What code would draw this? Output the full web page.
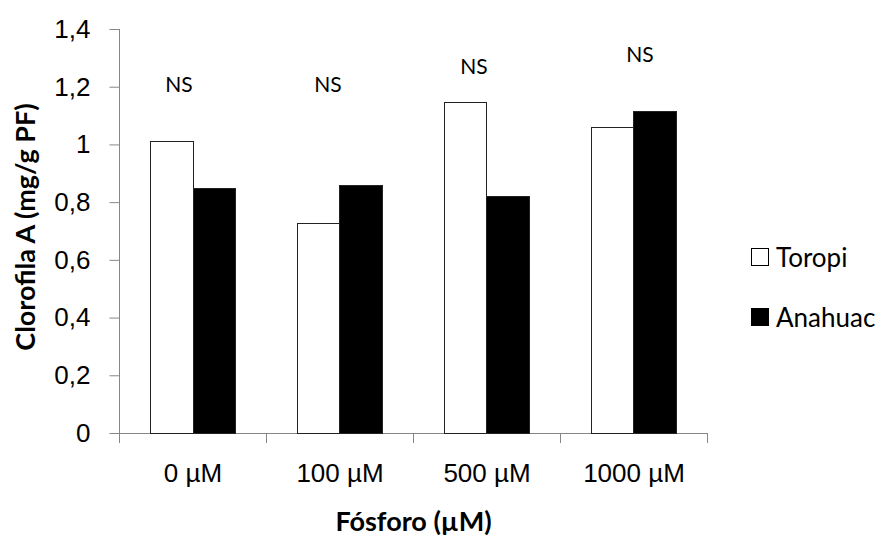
<!DOCTYPE html>
<html>
<head>
<meta charset="utf-8">
<script src="https://cdn.jsdelivr.net/npm/d3@7"></script>
<style>
  body { margin: 0; background: #fff; }
  svg { display: block; font-family: Lato, 'Open Sans', sans-serif; }
</style>
</head>
<body>
<main></main>
<script>
const categories = ['0 µM', '100 µM', '500 µM', '1000 µM'];
const seriesNames = ['Toropi', 'Anahuac'];
const toropi = [1.01, 0.725, 1.147, 1.058];
const anahuac = [0.846, 0.858, 0.819, 1.113];
const yTicks = [0, 0.2, 0.4, 0.6, 0.8, 1, 1.2, 1.4];
const nsLabels = ['NS', 'NS', 'NS', 'NS'];
const nsLevels = [1.18, 1.18, 1.245, 1.285];

// hand placed annotations in the original, nudged off the group centre
const nsShift = [-14, -12, -13, 6];
const colors = ['#fff', '#000'];

const dimensions = {
  width: 889,
  height: 536,
  margin: {
    top: 29,
    right: 181.5,
    bottom: 103,
    left: 119.5,
  },
};

dimensions.boundedWidth =
  dimensions.width - (dimensions.margin.left + dimensions.margin.right);
dimensions.boundedHeight =
  dimensions.height - (dimensions.margin.top + dimensions.margin.bottom);

const data = categories.map((category, i) => ({
  category,
  values: [toropi[i], anahuac[i]],
}));

const xScale = d3
  .scaleBand()
  .domain(categories)
  .range([0, dimensions.boundedWidth])
  .paddingInner(0.425)
  .paddingOuter(0.2125);

const seriesScale = d3
  .scaleBand()
  .domain(seriesNames)
  .range([0, xScale.bandwidth()]);

const yScale = d3
  .scaleLinear()
  .domain([0, 1.4])
  .range([dimensions.boundedHeight, 0]);

const wrapper = d3
  .select('main')
  .append('svg')
  .attr('width', dimensions.width)
  .attr('height', dimensions.height);

const bounds = wrapper
  .append('g')
  .attr(
    'transform',
    `translate(${dimensions.margin.left} ${dimensions.margin.top})`
  );

const axisColor = '#868686';
const fmt = d => String(d3.format('~g')(d)).replace('.', ',');

const yAxis = d3
  .axisLeft(yScale)
  .tickValues(yTicks)
  .tickSize(10)
  .tickPadding(19)
  .tickFormat(fmt);

const yAxisGroup = bounds.append('g').call(yAxis);

yAxisGroup.select('.domain').remove();
yAxisGroup
  .append('path')
  .attr('d', `M 0 0 V ${dimensions.boundedHeight + 10}`)
  .attr('stroke', axisColor)
  .attr('shape-rendering', 'crispEdges');

const xAxis = d3
  .axisBottom(xScale)
  .tickSize(0)
  .tickPadding(31);

const xAxisGroup = bounds
  .append('g')
  .attr('transform', `translate(0 ${dimensions.boundedHeight})`)
  .call(xAxis);

xAxisGroup.select('.domain').remove();
xAxisGroup
  .append('path')
  .attr('d', `M 0 0 H ${dimensions.boundedWidth}`)
  .attr('stroke', axisColor)
  .attr('shape-rendering', 'crispEdges');

// category boundary ticks
xAxisGroup
  .selectAll('path.boundary')
  .data(categories.slice(1).concat(['end']))
  .join('path')
  .attr('class', 'boundary')
  .attr('d', (d, i) => {
    const x = i < categories.length - 1
      ? xScale(d) - (xScale.step() - xScale.bandwidth()) / 2
      : dimensions.boundedWidth;
    return `M ${x} 0 V 10`;
  })
  .attr('stroke', axisColor)
  .attr('shape-rendering', 'crispEdges');

yAxisGroup.selectAll('.tick line').attr('stroke', axisColor);
bounds
  .selectAll('.tick text')
  .attr('fill', '#000')
  .attr('font-size', 26);

xAxisGroup.selectAll('.tick text').attr('dy', '0.71em');

const groups = bounds
  .append('g')
  .selectAll('g')
  .data(data)
  .join('g')
  .attr('transform', d => `translate(${xScale(d.category)} 0)`);

groups
  .selectAll('rect')
  .data(d => d.values.map((value, i) => ({ value, name: seriesNames[i] })))
  .join('rect')
  .attr('x', d => seriesScale(d.name))
  .attr('y', d => yScale(d.value))
  .attr('width', seriesScale.bandwidth())
  .attr('height', d => dimensions.boundedHeight - yScale(d.value))
  .attr('fill', (d, i) => colors[i])
  .attr('stroke', '#222')
  .attr('stroke-width', 1)
  .attr('shape-rendering', 'crispEdges');

bounds
  .append('g')
  .selectAll('text')
  .data(nsLabels)
  .join('text')
  .attr('x', (d, i) => xScale(categories[i]) + xScale.bandwidth() / 2 + nsShift[i])
  .attr('y', (d, i) => yScale(nsLevels[i]))
  .attr('text-anchor', 'middle')
  .attr('font-size', 21)
  .attr('fill', '#000')
  .text(d => d);

// axis titles
wrapper
  .append('text')
  .attr('transform', `translate(35 ${dimensions.margin.top + yScale(0.7) - 4}) rotate(-90)`)
  .attr('text-anchor', 'middle')
  .attr('font-size', 27)
  .attr('font-weight', 'bold')
  .text('Clorofila A (mg/g PF)');

wrapper
  .append('text')
  .attr('x', dimensions.margin.left + dimensions.boundedWidth / 2)
  .attr('y', 531)
  .attr('text-anchor', 'middle')
  .attr('font-size', 27)
  .attr('font-weight', 'bold')
  .text('Fósforo (µM)');

// legend
const legend = wrapper
  .append('g')
  .attr('transform', 'translate(751 248)');

const legendItems = legend
  .selectAll('g')
  .data(seriesNames)
  .join('g')
  .attr('transform', (d, i) => `translate(0 ${i * 60})`);

legendItems
  .append('rect')
  .attr('x', 0.5)
  .attr('y', 0.5)
  .attr('width', 17)
  .attr('height', 17)
  .attr('fill', (d, i) => colors[i])
  .attr('stroke', '#000');

legendItems
  .append('text')
  .attr('x', 25)
  .attr('y', 18.5)
  .attr('font-size', 26)
  .attr('fill', '#000')
  .text(d => d);
</script>
</body>
</html>
